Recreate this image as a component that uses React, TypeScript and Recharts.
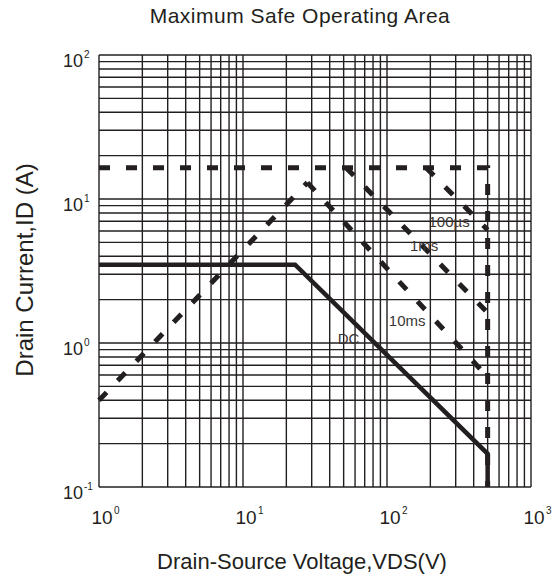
import { CartesianGrid, Line, LineChart, ReferenceDot, XAxis, YAxis } from 'recharts'

const FONT = '"Liberation Sans", Arial, Helvetica, sans-serif'
const INK = '#231f20'

// Boundary segments as VDS (V) / ID (A) pairs
const idPulseV = [1, 500, 500]
const idPulseA = [16.5, 16.5, 0.1]
const rdsOnV = [1, 28]
const rdsOnA = [0.4, 13]
const t10msV = [28, 500]
const t10msA = [13, 0.58]
const t1msV = [52, 500]
const t1msA = [16.5, 1.62]
const t100usV = [187, 500]
const t100usA = [16.5, 6.1]
const dcV = [1, 23, 500, 500]
const dcA = [3.5, 3.5, 0.17, 0.1]

// curve labels, anchored in data space
const curveLabels = ['DC', '10ms', '1ms', '100µs']
const curveLabelV = [54, 138, 181, 270]
const curveLabelA = [1.08, 1.43, 4.72, 6.98]

const vdsDecades = [1, 10, 100, 1000]
const idDecades = [0.1, 1, 10, 100]
const minorSteps = [2, 3, 4, 5, 6, 7, 8, 9]

const logGrid = (decades: number[]) => [
  ...decades.slice(0, -1).flatMap((d) => [d, ...minorSteps.map((m) => +(m * d).toPrecision(3))]),
  decades[decades.length - 1],
]

const vdsTicks = logGrid(vdsDecades)
const idTicks = logGrid(idDecades)

const toPoints = (v: number[], a: number[]) => v.map((x, k) => ({ vds: x, id: a[k] }))

const exponentOf = (v: number) => {
  const e = Math.round(Math.log10(v))
  return Math.abs(Math.log10(v) - e) < 1e-6 ? e : null
}

function XTick({ x, y, payload }: any) {
  const e = exponentOf(payload.value)
  if (e === null) return null
  return (
    <g fontFamily={FONT} fill={INK}>
      <text x={x - 7.5} y={y + 37} fontSize={19}>10</text>
      <text x={x + 15} y={y + 27} fontSize={10}>{e}</text>
    </g>
  )
}

function YTick({ x, y, payload }: any) {
  const e = exponentOf(payload.value)
  if (e === null) return null
  return (
    <g fontFamily={FONT} fill={INK}>
      <text x={x - 16} y={y + 12} fontSize={18} textAnchor="end">10</text>
      <text x={x - 15} y={y + 3} fontSize={10}>{e}</text>
    </g>
  )
}

const dashed = { stroke: INK, strokeWidth: 5, strokeDasharray: '11 16', dot: false, isAnimationActive: false }

export default function App() {
  return (
    <div style={{ position: 'absolute', left: 0, top: 0, width: 556, height: 581, background: '#fff' }}>
      <LineChart width={556} height={581} margin={{ top: 55, right: 25, bottom: 0, left: 0 }}>
        <CartesianGrid stroke="#231f20" strokeWidth={1.4} />
        <XAxis
          type="number"
          dataKey="vds"
          scale="log"
          domain={[1, 1000]}
          ticks={vdsTicks}
          interval={0}
          height={94}
          tickSize={0}
          tickMargin={0}
          axisLine={false}
          tick={<XTick />}
        />
        <YAxis
          type="number"
          dataKey="id"
          scale="log"
          domain={[0.1, 100]}
          ticks={idTicks}
          interval={0}
          width={99}
          tickSize={0}
          tickMargin={0}
          axisLine={false}
          tick={<YTick />}
        />
        <Line data={toPoints(idPulseV, idPulseA)} dataKey="id" {...dashed} />
        <Line data={toPoints(rdsOnV, rdsOnA)} dataKey="id" {...dashed} />
        <Line data={toPoints(t10msV, t10msA)} dataKey="id" {...dashed} />
        <Line data={toPoints(t1msV, t1msA)} dataKey="id" {...dashed} />
        <Line data={toPoints(t100usV, t100usA)} dataKey="id" {...dashed} />
        <Line
          data={toPoints(dcV, dcA)}
          dataKey="id"
          stroke={INK}
          strokeWidth={4.5}
          dot={false}
          isAnimationActive={false}
        />
        {curveLabels.map((text, k) => (
          <ReferenceDot
            key={text}
            x={curveLabelV[k]}
            y={curveLabelA[k]}
            r={0}
            stroke="none"
            label={{ value: text, position: 'center', fontSize: 15, fontFamily: FONT, fill: '#3a3636' }}
          />
        ))}
        <text x={300} y={23} textAnchor="middle" fontSize={21} letterSpacing={0.5} fontFamily={FONT} fill={INK}>
          Maximum Safe Operating Area
        </text>
        <text x={302} y={569} textAnchor="middle" fontSize={22} fontFamily={FONT} fill={INK}>
          Drain-Source Voltage,VDS(V)
        </text>
        <text
          x={24}
          y={270}
          transform="rotate(-90, 24, 270)"
          textAnchor="middle"
          dominantBaseline="central"
          fontSize={24}
          fontFamily={FONT}
          fill={INK}
        >
          Drain Current,ID (A)
        </text>
      </LineChart>
    </div>
  )
}
